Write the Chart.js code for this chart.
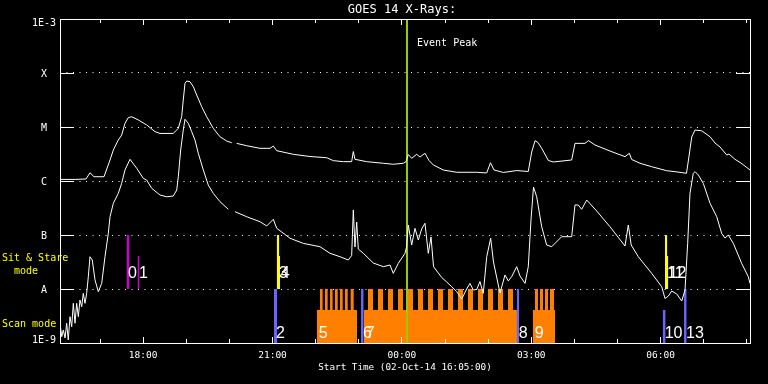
<!DOCTYPE html>
<html><head><meta charset="utf-8">
<script src="https://cdn.jsdelivr.net/npm/chart.js@4/dist/chart.umd.min.js"></script>
<style>html,body{margin:0;padding:0;background:#000;overflow:hidden}canvas{display:block}</style>
</head><body>
<canvas id="c" width="768" height="384"></canvas>
<script>
// Time axis: minutes after start time 02-Oct-14 16:05:00
const startLabel = 'Start Time (02-Oct-14 16:05:00)';
const startHour = 16, startMinute = 5;
const spanMinutes = 960;

// GOES 14 long channel (1-8 A), W/m^2
const longTime = [0, 20.9, 36.2, 41.7, 47.3, 61.2, 69.6, 74.2, 81.1, 85.8,
  90.4, 95.0, 99.8, 108.9, 120.6, 132.2, 139.1, 157.6, 164.6, 169.3,
  171.5, 173.9, 176.3, 180.9, 185.5, 190.2, 197.1, 204.1, 213.3, 222.6,
  231.9, 238.9, 241, 245.8, 259.8, 278.3, 292.2, 296.8, 301.5, 324.6,
  347.8, 371.1, 380.3, 394.2, 405.8, 408.1, 410.4, 426.7, 449.8, 463.7,
  477.6, 481.4, 484.6, 489.3, 496.3, 500.9, 507.8, 513.4, 519.4, 533.3,
  551.9, 579.8, 593.7, 598.9, 603.8, 616.8, 635.4, 651.5, 656.3, 660.9,
  665.0, 670.2, 679.4, 686.3, 711.9, 716.5, 730.4, 735.3, 744.3, 765.2,
  786.1, 792.1, 795.4, 807.0, 823.2, 844.1, 855.6, 871.6, 874.4, 878.9,
  883.5, 892.8, 904.4, 911.3, 918.3, 927.6, 930.8, 939.1, 947.5, 960];
const longFlux = [1.07e-6, 1.07e-6, 1.09e-6, 1.42e-6, 1.20e-6, 1.20e-6, 2.45e-6, 3.75e-6, 5.74e-6, 7.10e-6,
  1.17e-5, 1.49e-5, 1.55e-5, 1.35e-5, 1.09e-5, 8.2e-6, 7.6e-6, 7.6e-6, 9.45e-6, 1.55e-5,
  3.16e-5, 6.44e-5, 7.10e-5, 6.9e-5, 5.57e-5, 3.91e-5, 2.38e-5, 1.55e-5, 9.45e-6, 6.6e-6,
  5.50e-6, 5.1e-6, null, 4.98e-6, 4.5e-6, 4.03e-6, 4.03e-6, 4.44e-6, 3.64e-6, 3.12e-6,
  2.84e-6, 2.70e-6, 2.38e-6, 2.28e-6, 2.28e-6, 3.52e-6, 2.52e-6, 2.28e-6, 2.13e-6, 2.04e-6,
  2.13e-6, 2.28e-6, 3.09e-6, 2.63e-6, 3.12e-6, 2.78e-6, 3.26e-6, 2.40e-6, 1.98e-6, 1.60e-6,
  1.45e-6, 1.45e-6, 1.41e-6, 2.18e-6, 1.60e-6, 1.44e-6, 1.56e-6, 1.50e-6, 3.44e-6, 5.57e-6,
  5.16e-6, 4.03e-6, 2.40e-6, 2.25e-6, 2.45e-6, 4.98e-6, 4.98e-6, 5.6e-6, 4.64e-6, 3.59e-6,
  2.82e-6, 3.26e-6, 2.5e-6, 2.13e-6, 1.84e-6, 1.55e-6, 1.49e-6, 1.39e-6, 2.45e-6, 6.52e-6,
  8.79e-6, 8.5e-6, 6.6e-6, 5.05e-6, 4.26e-6, 3.03e-6, 3.16e-6, 2.52e-6, 2.15e-6, 1.60e-6];

// GOES 14 short channel (0.5-4 A), W/m^2
const shortTime = [0, 2.4, 4.6, 7.0, 9.3, 11.5, 13.9, 16.3, 18.5, 20.9,
  23.2, 25.5, 27.8, 30.2, 32.4, 34.8, 37.1, 39.4, 41.7, 44.9,
  48.7, 53.3, 58.0, 62.6, 67.2, 69.6, 74.2, 81.1, 85.8, 90.4,
  97.4, 106.7, 115.9, 120.6, 127.6, 139.1, 148.5, 157.6, 162.4, 164.6,
  167.9, 171.5, 173.9, 178.5, 183.2, 187.8, 192.4, 199.4, 206.3, 213.3,
  222.6, 234.2, 240, 243.5, 259.8, 278.3, 287.6, 296.8, 301.5, 320.0,
  338.5, 361.7, 375.7, 389.6, 401.1, 405.8, 408.1, 410.4, 412.8, 415.0,
  422.0, 435.9, 449.8, 459.1, 463.7, 470.7, 480.0, 482.1, 484.6, 489.3,
  493.9, 498.5, 503.2, 507.8, 512.4, 516.2, 519.7, 531.1, 538.0, 545.0,
  551.9, 558.9, 565.8, 570.4, 575.0, 579.8, 584.3, 588.9, 593.7, 599.2,
  603.1, 609.8, 612.2, 619.1, 623.7, 628.4, 635.4, 640, 647.0, 651.5,
  655.3, 658.8, 663.2, 670.2, 677.1, 684.1, 698.0, 711.9, 716.5, 721.1,
  725.8, 732.8, 746.7, 765.2, 786.1, 790.7, 794.7, 804.6, 823.2, 837.2,
  841.8, 846.4, 851.1, 858.1, 865.0, 869.6, 873.3, 876.5, 881.1, 883.5,
  888.1, 895.0, 904.4, 913.7, 920.6, 925.2, 929.8, 936.8, 948.4, 957.6, 960];
const shortFlux = [2.32e-9, 1.31e-9, 1.74e-9, 1.24e-9, 2.32e-9, 1.14e-9, 3.07e-9, 2.0e-9, 5.43e-9, 2.32e-9,
  5.43e-9, 3.07e-9, 6.25e-9, 4.70e-9, 8.3e-9, 5.43e-9, 8.3e-9, 1.69e-8, 3.96e-8, 3.44e-8,
  1.47e-8, 8.9e-9, 1.27e-8, 3.96e-8, 1.07e-7, 2.18e-7, 3.86e-7, 5.9e-7, 9.05e-7, 1.60e-6,
  2.52e-6, 1.72e-6, 1.12e-6, 1.04e-6, 7.33e-7, 5.50e-7, 5.1e-7, 5.27e-7, 6.81e-7, 1.20e-6,
  3.75e-6, 8.79e-6, 1.39e-5, 1.17e-5, 8.2e-6, 5.74e-6, 3.26e-6, 1.60e-6, 8.42e-7, 5.9e-7,
  4.14e-7, 2.99e-7, null, 2.70e-7, 2.18e-7, 1.76e-7, 1.47e-7, 1.95e-7, 1.33e-7, 8.7e-8,
  7.0e-8, 6.07e-8, 4.58e-8, 3.96e-8, 3.44e-8, 4.17e-8, 2.90e-7, 5.99e-8, 1.74e-7, 5.50e-8,
  4.58e-8, 3.03e-8, 2.59e-8, 2.78e-8, 1.95e-8, 2.99e-8, 4.58e-8, 5.99e-8, 1.53e-7, 6.52e-8,
  1.33e-7, 8.07e-8, 1.29e-7, 1.65e-7, 4.58e-8, 9.17e-8, 2.59e-8, 1.63e-8, 1.35e-8, 1.10e-8,
  8.96e-9, 6.52e-9, 1.0e-8, 1.27e-8, 9.57e-9, 9.8e-9, 1.37e-8, 8.3e-9, 3.96e-8, 8.7e-8,
  3.16e-8, 1.19e-8, 8.4e-9, 1.82e-8, 1.41e-8, 1.69e-8, 2.59e-8, 1.74e-8, 1.27e-8, 2.59e-8,
  1.90e-7, 7.74e-7, 5.1e-7, 1.42e-7, 6.52e-8, 6.07e-8, 9.3e-8, 9.3e-8, 3.59e-7, 3.59e-7,
  2.99e-7, 4.44e-7, 2.78e-7, 1.42e-7, 6.25e-8, 1.53e-7, 6.52e-8, 3.96e-8, 1.95e-8, 1.10e-8,
  6.66e-9, 7.41e-9, 9.17e-9, 8.07e-9, 5.99e-9, 9.57e-9, 7.0e-8, 5.9e-7, 1.39e-6, 1.49e-6,
  1.29e-6, 9.05e-7, 3.86e-7, 2.18e-7, 1.07e-7, 8.79e-8, 1.0e-7, 7.0e-8, 2.99e-8, 1.69e-8, 1.27e-8];

// Event peak time (minutes after start)
const peakTime = 482.8;

// Y axis decade labels
const yTickValues = [1e-3, 1e-4, 1e-5, 1e-6, 1e-7, 1e-8, 1e-9];
const yTickNames = ['1E-3', 'X', 'M', 'C', 'B', 'A', '1E-9'];
// X axis labelled ticks (minutes after start)
const xMajorTicks = [115, 295, 475, 655, 835];

// Sit & Stare observations (early group, late group)
const sitEarlyIds = ['0', '1'];
const sitEarlyStart = [92.5, 107.8];
const sitEarlyEnd = [96.7, 110.6];
const sitEarlyTop = [1e-7, 4.1e-8];
const sitLateIds = ['3', '4', '11', '12'];
const sitLateStart = [301.5, 304.3, 841.7, 844.1];
const sitLateEnd = [305.1, 306.1, 844.9, 846.3];
const sitLateTop = [1e-7, 4.1e-8, 1e-7, 4.1e-8];

// Short scans
const shortScanIds = ['2', '6', '8', '10', '13'];
const shortScanStart = [297.7, 418.8, 635.4, 838.5, 868.2];
const shortScanEnd = [302.3, 422.5, 639.0, 842.6, 871.9];
const shortScanTop = [1e-8, 1e-8, 1e-8, 4.08e-9, 1e-8];

// Long scans (coverage) and their raster steps
const longScanIds = ['5', '7', '9'];
const longScanStart = [357.2, 422.5, 657.7];
const longScanEnd = [413.2, 635.8, 688.7];
const longScanLevel = 4.08e-9;
const stepStart = [361.7, 368.7, 375.7, 382.6, 389.6, 396.5, 404.4,
  428.5, 442.4, 456.3, 470.3, 484.2, 498.1, 512.0, 525.9, 539.8, 553.7, 567.6, 581.6, 595.5, 609.4, 623.3,
  660.9, 667.8, 674.8, 681.7];
const stepEnd = [365.4, 372.4, 379.3, 386.4, 393.3, 400.3, 408.6,
  435.5, 449.4, 463.3, 477.2, 491.1, 505.1, 519.0, 532.9, 546.8, 560.7, 574.6, 588.5, 602.4, 616.4, 630.3,
  665.0, 672.0, 679.0, 687.3];
const stepLevel = 1e-8;

// ---------- build datasets ----------
const pts = (ts, vs) => ts.map((t, i) => ({x: t, y: vs[i]}));
const none = 'rgba(0,0,0,0)';
function rect(s, e, top, base, color) {
  return {data: [{x: s, y: top}, {x: e, y: top}], borderColor: none, borderWidth: 0,
    backgroundColor: color, fill: base === 'start' ? 'start' : {value: base}, pointRadius: 0};
}
const datasets = [];
datasets.push({label: 'long', data: pts(longTime, longFlux), borderColor: '#ffffff', borderWidth: 1, pointRadius: 0, tension: 0, fill: false, spanGaps: false});
datasets.push({label: 'short', data: pts(shortTime, shortFlux), borderColor: '#ffffff', borderWidth: 1, pointRadius: 0, tension: 0, fill: false, spanGaps: false});
datasets.push({label: 'peak', data: [{x: peakTime, y: 1e-9}, {x: peakTime, y: 1e-3}], borderColor: '#99cc00', borderWidth: 2, pointRadius: 0, fill: false});
shortScanStart.forEach((s, i) => datasets.push(rect(s, shortScanEnd[i], shortScanTop[i], 'start', '#6666ff')));
longScanStart.forEach((s, i) => {
  const e = longScanEnd[i];
  const d = [{x: s, y: longScanLevel}];
  stepStart.forEach((ss, j) => {
    if (ss >= s && ss < e) { d.push({x: ss, y: stepLevel}); d.push({x: stepEnd[j], y: longScanLevel}); }
  });
  d.push({x: e, y: longScanLevel});
  datasets.push({data: d, stepped: 'before', borderColor: none, borderWidth: 0, backgroundColor: '#ff8000', fill: 'start', pointRadius: 0});
});
sitEarlyStart.forEach((s, i) => datasets.push(rect(s, sitEarlyEnd[i], sitEarlyTop[i], 1e-8, '#cc00cc')));
sitLateStart.forEach((s, i) => datasets.push(rect(s, sitLateEnd[i], sitLateTop[i], 1e-8, '#ffff00')));

function clock(t) {
  const m = (startHour * 60 + startMinute + Math.round(t)) % 1440;
  return String(Math.floor(m / 60)).padStart(2, '0') + ':' + String(m % 60).padStart(2, '0');
}

const MONO = '"DejaVu Sans Mono", monospace';
const decor = {
  id: 'decor',
  beforeDraw(chart) {
    const c = chart.ctx; c.save(); c.fillStyle = '#000'; c.fillRect(0, 0, chart.width, chart.height); c.restore();
  },
  afterDatasetsDraw(chart) {
    const c = chart.ctx, a = chart.chartArea, xs = chart.scales.x, ys = chart.scales.y;
    c.save();
    c.strokeStyle = '#fff'; c.lineWidth = 1;
    c.strokeRect(a.left + 0.5, a.top + 0.5, a.right - a.left, a.bottom - a.top);
    // hourly ticks
    c.beginPath();
    for (let t = 55; t <= spanMinutes; t += 60) {
      const px = Math.round(xs.getPixelForValue(t)) + 0.5;
      const major = xMajorTicks.includes(t);
      const len = major ? 6 : 4;
      c.moveTo(px, a.bottom); c.lineTo(px, a.bottom - len);
      c.moveTo(px, a.top); c.lineTo(px, a.top + len);
    }
    // decade ticks
    yTickValues.slice(1, -1).forEach(v => {
      const py = Math.round(ys.getPixelForValue(v)) + 0.5;
      c.moveTo(a.left, py); c.lineTo(a.left + 14, py);
      c.moveTo(a.right, py); c.lineTo(a.right - 14, py);
    });
    c.stroke();
    // y labels
    c.fillStyle = '#fff'; c.textAlign = 'center'; c.textBaseline = 'middle';
    c.font = '10px ' + MONO;
    yTickValues.forEach((v, i) => {
      let py = ys.getPixelForValue(v) + 1;
      if (i === 0) py += 3; if (i === yTickValues.length - 1) py -= 4;
      c.fillText(yTickNames[i], 44, py);
    });
    // x labels
    c.font = '9.5px ' + MONO;
    xMajorTicks.forEach(t => c.fillText(clock(t), xs.getPixelForValue(t) + 0.5, a.bottom + 13));
    c.font = '9.3px ' + MONO;
    c.fillText(startLabel, (a.left + a.right) / 2, a.bottom + 25);
    // title
    c.font = '12px ' + MONO;
    c.fillText('GOES 14 X-Rays:', (a.left + a.right) / 2 - 3, 10);
    // event peak
    c.textAlign = 'left'; c.font = '10px ' + MONO;
    c.fillText('Event Peak', xs.getPixelForValue(peakTime) + 10, 43);
    // mode labels
    c.fillStyle = '#ffff00';
    c.fillText('Sit & Stare', 2, ys.getPixelForValue(3.75e-8));
    c.fillText('  mode', 2, ys.getPixelForValue(2.15e-8));
    c.fillText('Scan mode', 2, ys.getPixelForValue(2.25e-9));
    // observation numbers
    c.fillStyle = '#fff';
    c.font = '16px "Liberation Sans", Arial, sans-serif';
    const sitY = ys.getPixelForValue(2.0e-8) + 1, scanY = ys.getPixelForValue(1.56e-9) + 1;
    sitEarlyIds.forEach((id, i) => c.fillText(id, xs.getPixelForValue(sitEarlyStart[i]) + 1.5, sitY));
    sitLateIds.forEach((id, i) => c.fillText(id, xs.getPixelForValue(sitLateStart[i]) + 2, sitY));
    shortScanIds.forEach((id, i) => c.fillText(id, xs.getPixelForValue(shortScanStart[i]) + 2, scanY));
    longScanIds.forEach((id, i) => c.fillText(id, xs.getPixelForValue(longScanStart[i]) + 2, scanY));
    c.restore();
  }
};

new Chart(document.getElementById('c'), {
  type: 'line',
  data: {datasets},
  options: {
    responsive: false, animation: false, devicePixelRatio: 1, events: [],
    layout: {padding: {left: 60, top: 19, right: 18, bottom: 41}},
    plugins: {legend: {display: false}, tooltip: {enabled: false}, title: {display: false}},
    scales: {
      x: {type: 'linear', min: 0, max: spanMinutes, display: false},
      y: {type: 'logarithmic', min: 1e-9, max: 1e-3, display: true,
        ticks: {display: false},
        grid: {color: '#ffffff', lineWidth: 1, drawTicks: false},
        border: {display: false, dash: [1, 5.5]},
        afterBuildTicks: s => { s.ticks = yTickValues.slice(1, -1).map(v => ({value: v})); }
      }
    }
  },
  plugins: [decor]
});
</script>
</body></html>
